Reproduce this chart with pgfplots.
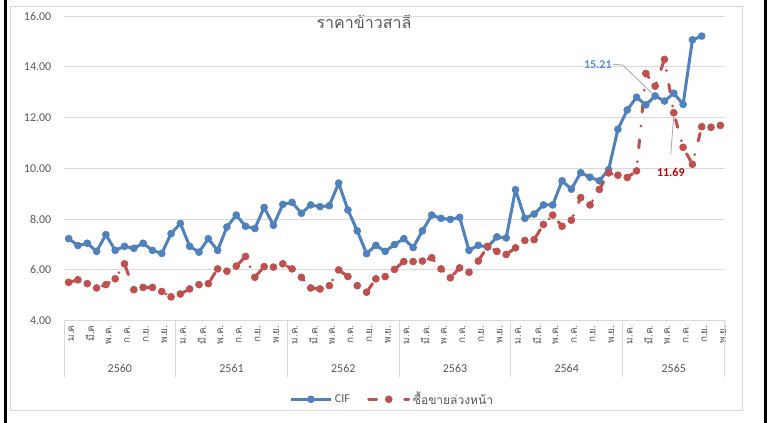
\documentclass[border=0pt]{standalone}
\usepackage{fontspec}
\setmainfont{Carlito}
\newfontfamily\thai[Script=Thai]{Loma}
\usepackage{pgfplots}
\usepackage{pgfplotstable}
\pgfplotsset{compat=1.18}
\definecolor{cifblue}{HTML}{4F81BD}
\definecolor{futred}{HTML}{C0504D}
\definecolor{tickgray}{HTML}{595959}
\definecolor{gridgray}{HTML}{D9D9D9}
\definecolor{lblblue}{HTML}{558ED5}
\definecolor{lblred}{HTML}{C00000}

\pgfplotstableread{
i v
0 7.23
1 6.96
2 7.05
3 6.73
4 7.39
5 6.77
6 6.93
7 6.85
8 7.05
9 6.77
10 6.65
11 7.43
12 7.83
13 6.93
14 6.70
15 7.23
16 6.77
17 7.69
18 8.16
19 7.72
20 7.63
21 8.46
22 7.76
23 8.58
24 8.66
25 8.23
26 8.56
27 8.49
28 8.53
29 9.42
30 8.36
31 7.54
32 6.64
33 6.97
34 6.73
35 7.00
36 7.23
37 6.88
38 7.54
39 8.16
40 8.03
41 7.99
42 8.07
43 6.77
44 6.97
45 6.90
46 7.30
47 7.26
48 9.16
49 8.03
50 8.20
51 8.56
52 8.56
53 9.51
54 9.18
55 9.83
56 9.65
57 9.51
58 9.95
59 11.54
60 12.30
61 12.80
62 12.50
63 12.85
64 12.65
65 12.96
66 12.52
67 15.06
68 15.21
}\cif

\pgfplotstableread{
i v
0 5.51
1 5.61
2 5.46
3 5.29
4 5.42
5 5.65
6 6.24
7 5.22
8 5.31
9 5.31
10 5.15
11 4.94
12 5.05
13 5.25
14 5.42
15 5.46
16 6.04
17 5.95
18 6.15
19 6.53
20 5.71
21 6.13
22 6.11
23 6.24
24 6.04
25 5.71
26 5.29
27 5.25
28 5.38
29 6.00
30 5.74
31 5.38
32 5.12
33 5.65
34 5.74
35 6.02
36 6.33
37 6.33
38 6.35
39 6.48
40 6.04
41 5.69
42 6.08
43 5.91
44 6.35
45 6.93
46 6.73
47 6.61
48 6.87
49 7.16
50 7.19
51 7.79
52 8.16
53 7.72
54 7.96
55 8.85
56 8.56
57 9.17
58 9.82
59 9.73
60 9.64
61 9.90
62 13.74
63 13.24
64 14.29
65 12.19
66 10.83
67 10.16
68 11.64
69 11.62
70 11.69
}\fut

\begin{document}
\begin{tikzpicture}
\begin{scope}[x=0.75pt,y=-0.75pt,yshift=317.25pt]
\path[use as bounding box] (0,0) rectangle (771,423);
\fill[white] (0,0) rectangle (771,423);
\draw[gridgray, line width=0.75pt] (10,7) rectangle (742,411);
\fill[black] (3.5,0) rectangle (6.5,423);
\fill[black] (764,0) rectangle (767,423);
\node[font=\thai\fontsize{12}{14}\selectfont, text=tickgray] at (364,22) {ราคาข้าวสาลี};
\end{scope}

\begin{axis}[
  at={(48pt,76.725pt)}, anchor=south west,
  scale only axis, width=495.75pt, height=228.5pt,
  xmin=-0.5, xmax=70.5, ymin=4, ymax=16,
  clip=false,
  axis line style={draw=none},
  major tick length=0pt,
  ytick={4,6,...,16},
  ymajorgrids, grid style={gridgray, line width=0.75pt},
  yticklabel style={text=tickgray, font=\fontsize{9}{10}\selectfont, xshift=-6pt},
  /pgf/number format/.cd, fixed, fixed zerofill, precision=2, assume math mode=true,
  /pgfplots/.cd,
  xtick={0,2,...,70},
  xticklabels={ม.ค,มี.ค,พ.ค.,ก.ค.,ก.ย.,พ.ย.,
               ม.ค.,มี.ค.,พ.ค.,ก.ค.,ก.ย.,พ.ย.,
               ม.ค.,มี.ค.,พ.ค.,ก.ค.,ก.ย.,พ.ย.,
               ม.ค.,มี.ค.,พ.ค.,ก.ค.,ก.ย.,พ.ย.,
               ม.ค.,มี.ค.,พ.ค.,ก.ค.,ก.ย.,พ.ย.,
               ม.ค.,มี.ค.,พ.ค.,ก.ค.,ก.ย.,พ.ย.},
  xticklabel style={rotate=90, anchor=east, text=tickgray, font=\thai\fontsize{7.5}{8}\selectfont, yshift=-2pt},
  legend style={at={(0.497,-0.258)}, anchor=center, draw=none, fill=none,
    legend columns=2, font=\fontsize{9}{10}\selectfont, text=tickgray,
    /tikz/every even column/.append style={column sep=11pt}},
  legend image code/.code={\draw[mark repeat=2,mark phase=2,#1] plot coordinates {(0pt,0pt) (15pt,0pt) (30pt,0pt)};},
]
\addplot[cifblue, line width=2.25pt, line join=round, mark=*, mark size=2.6pt, mark options={solid, fill=cifblue, draw=cifblue, line width=0.5pt}] table[x=i,y=v] {\cif};
\addlegendentry{CIF}
\addplot[futred, line width=2.25pt, line cap=round, line join=round, dash pattern=on 6pt off 10.5pt on 0pt off 10.5pt, mark=*, mark size=2.6pt, mark options={solid, fill=futred, draw=futred, line width=0.5pt}] table[x=i,y=v] {\fut};
\addlegendentry{\thai ซื้อขายล่วงหน้า}

\pgfplotsinvokeforeach{-0.5,11.5,23.5,35.5,47.5,59.5,70.5}{
  \draw[gridgray, line width=0.75pt] (axis cs:#1,4) -- ++(0pt,-42pt);
}
\begin{scope}[every node/.style={text=tickgray, font=\fontsize{9}{10}\selectfont}]
\node at (axis cs:5.5,4) [yshift=-35.7pt] {2560};
\node at (axis cs:17.5,4) [yshift=-35.7pt] {2561};
\node at (axis cs:29.5,4) [yshift=-35.7pt] {2562};
\node at (axis cs:41.5,4) [yshift=-35.7pt] {2563};
\node at (axis cs:53.5,4) [yshift=-35.7pt] {2564};
\node at (axis cs:65,4) [yshift=-35.7pt] {2565};
\end{scope}
% data labels with leader lines
\draw[gray!70, line width=0.6pt] (axis cs:58.5,14.10) -- (axis cs:59.51,14.07) -- (axis cs:62.98,12.85);
\node[text=lblblue, font=\bfseries\fontsize{9}{10}\selectfont] at (axis cs:56.84,14.07) {15.21};
\draw[gray!70, line width=0.6pt] (axis cs:64.67,10.56) -- (axis cs:65.02,12.19);
\node[text=lblred, font=\bfseries\fontsize{9}{10}\selectfont] at (axis cs:64.68,9.83) {11.69};
\end{axis}
\end{tikzpicture}
\end{document}
